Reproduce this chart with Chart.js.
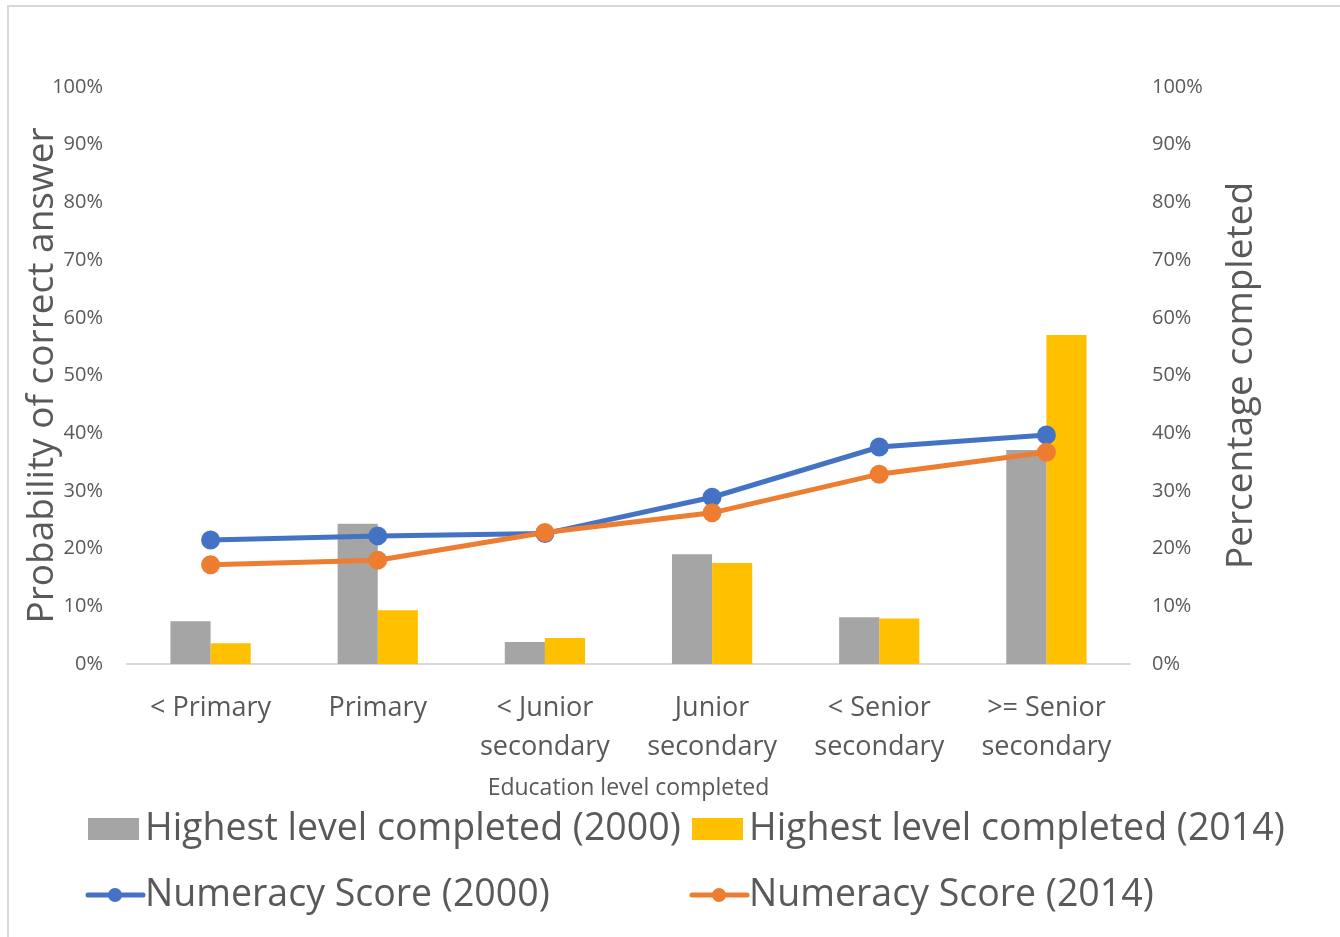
<!DOCTYPE html>
<html lang="en">
<head>
<meta charset="UTF-8">
<title>Numeracy and education level</title>
<script src="https://cdn.jsdelivr.net/npm/chart.js@4.4.0/dist/chart.umd.min.js"></script>
<style>
  body { margin: 0; background: #fff; }
  #frame { position: absolute; left: 7px; top: 5px; width: 1400px; height: 1000px;
           border-left: 2px solid #d9d9d9; border-top: 2px solid #d9d9d9; }
  #wrap { position: absolute; left: 0; top: 0; width: 1340px; height: 937px; }
</style>
</head>
<body>
<div id="frame"></div>
<div id="wrap"><canvas id="chart" width="1340" height="937"></canvas></div>
<script>
const categories = [
  '< Primary', 'Primary', ['< Junior', 'secondary'], ['Junior', 'secondary'],
  ['< Senior', 'secondary'], ['>= Senior', 'secondary']
];
// bars: share of people with that highest level (right axis)
const completed2000 = [7.4, 24.3, 3.8, 19.0, 8.1, 37.1];
const completed2014 = [3.6, 9.3, 4.5, 17.5, 7.9, 57.0];
// lines: probability of a correct answer (left axis)
const numeracy2000 = [21.5, 22.2, 22.6, 28.9, 37.6, 39.7];
const numeracy2014 = [17.2, 18.0, 22.8, 26.2, 32.9, 36.7];
const yTicks = [0, 10, 20, 30, 40, 50, 60, 70, 80, 90, 100];

const FONT = "'Open Sans', sans-serif";
const TXT = '#595959';

// the right axis title reads bottom to top and the legend sits in two columns
const extras = {
  id: 'extras',
  afterDraw(chart) {
    const ctx = chart.ctx;
    const area = chart.chartArea;
    ctx.save();
    ctx.fillStyle = TXT;
    ctx.font = '37px ' + FONT;
    ctx.textAlign = 'center';
    ctx.textBaseline = 'middle';
    ctx.translate(1241, (area.top + area.bottom) / 2);
    ctx.rotate(-Math.PI / 2);
    ctx.fillText('Percentage completed', 0, 0);
    ctx.restore();

    const cols = [88, 692];
    const rows = [829, 895];
    const ds = chart.data.datasets;
    ctx.save();
    ctx.font = '37.5px ' + FONT;
    ctx.textBaseline = 'middle';
    ctx.textAlign = 'left';
    ds.forEach((d, i) => {
      const x = cols[i % 2], y = rows[Math.floor(i / 2)];
      if (d.type === 'line') {
        ctx.strokeStyle = d.borderColor;
        ctx.lineWidth = 5;
        ctx.lineCap = 'round';
        ctx.beginPath();
        ctx.moveTo(x, y); ctx.lineTo(x + 55, y);
        ctx.stroke();
        ctx.fillStyle = d.borderColor;
        ctx.beginPath();
        ctx.arc(x + 27, y, 7, 0, Math.PI * 2);
        ctx.fill();
      } else {
        ctx.fillStyle = d.backgroundColor;
        ctx.fillRect(x, y - 11, 51, 22);
      }
      ctx.fillStyle = TXT;
      ctx.fillText(d.label, x + 57, y);
    });
    ctx.restore();
  }
};

const ctx = document.getElementById('chart').getContext('2d');
new Chart(ctx, {
  data: {
    labels: categories,
    datasets: [
      { type: 'bar', label: 'Highest level completed (2000)', data: completed2000,
        backgroundColor: '#a5a5a5', yAxisID: 'y2', order: 2 },
      { type: 'bar', label: 'Highest level completed (2014)', data: completed2014,
        backgroundColor: '#ffc000', yAxisID: 'y2', order: 3 },
      { type: 'line', label: 'Numeracy Score (2000)', data: numeracy2000,
        borderColor: '#4472c4', backgroundColor: '#4472c4', borderWidth: 5,
        pointRadius: 7, pointHoverRadius: 7, yAxisID: 'y', order: 1 },
      { type: 'line', label: 'Numeracy Score (2014)', data: numeracy2014,
        borderColor: '#ed7d31', backgroundColor: '#ed7d31', borderWidth: 5,
        pointRadius: 7, pointHoverRadius: 7, yAxisID: 'y', order: 0 }
    ]
  },
  options: {
    responsive: false,
    animation: false,
    layout: { padding: { top: 87, bottom: 135, left: 0, right: 0 } },
    datasets: { bar: { categoryPercentage: 0.48, barPercentage: 1 } },
    plugins: { legend: { display: false }, tooltip: { enabled: false } },
    scales: {
      x: {
        grid: { display: false },
        border: { color: '#d9d9d9', width: 2 },
        ticks: { color: TXT, font: { family: FONT, size: 27, lineHeight: 1.45 },
                 maxRotation: 0, autoSkip: false, padding: 17 },
        title: { display: true, text: 'Education level completed', color: TXT,
                 font: { family: FONT, size: 23 }, padding: 0 },
        afterFit(s) { s.height = 138; }
      },
      y: {
        position: 'left', min: 0, max: 100,
        grid: { display: false, drawTicks: false },
        border: { display: false },
        afterBuildTicks(s) { s.ticks = yTicks.map(v => ({ value: v })); },
        ticks: { color: TXT, font: { family: FONT, size: 20 }, padding: 24,
                 callback: v => v + '%' },
        title: { display: true, text: 'Probability of correct answer', color: TXT,
                 font: { family: FONT, size: 37 }, padding: { top: 20 } },
        afterFit(s) { s.width = 127; }
      },
      y2: {
        position: 'right', min: 0, max: 100,
        grid: { display: false, drawTicks: false },
        border: { display: false },
        afterBuildTicks(s) { s.ticks = yTicks.map(v => ({ value: v })); },
        ticks: { color: TXT, font: { family: FONT, size: 20 }, padding: 22,
                 callback: v => v + '%' },
        afterFit(s) { s.width = 210; }
      }
    }
  },
  plugins: [extras]
});
</script>
</body>
</html>
